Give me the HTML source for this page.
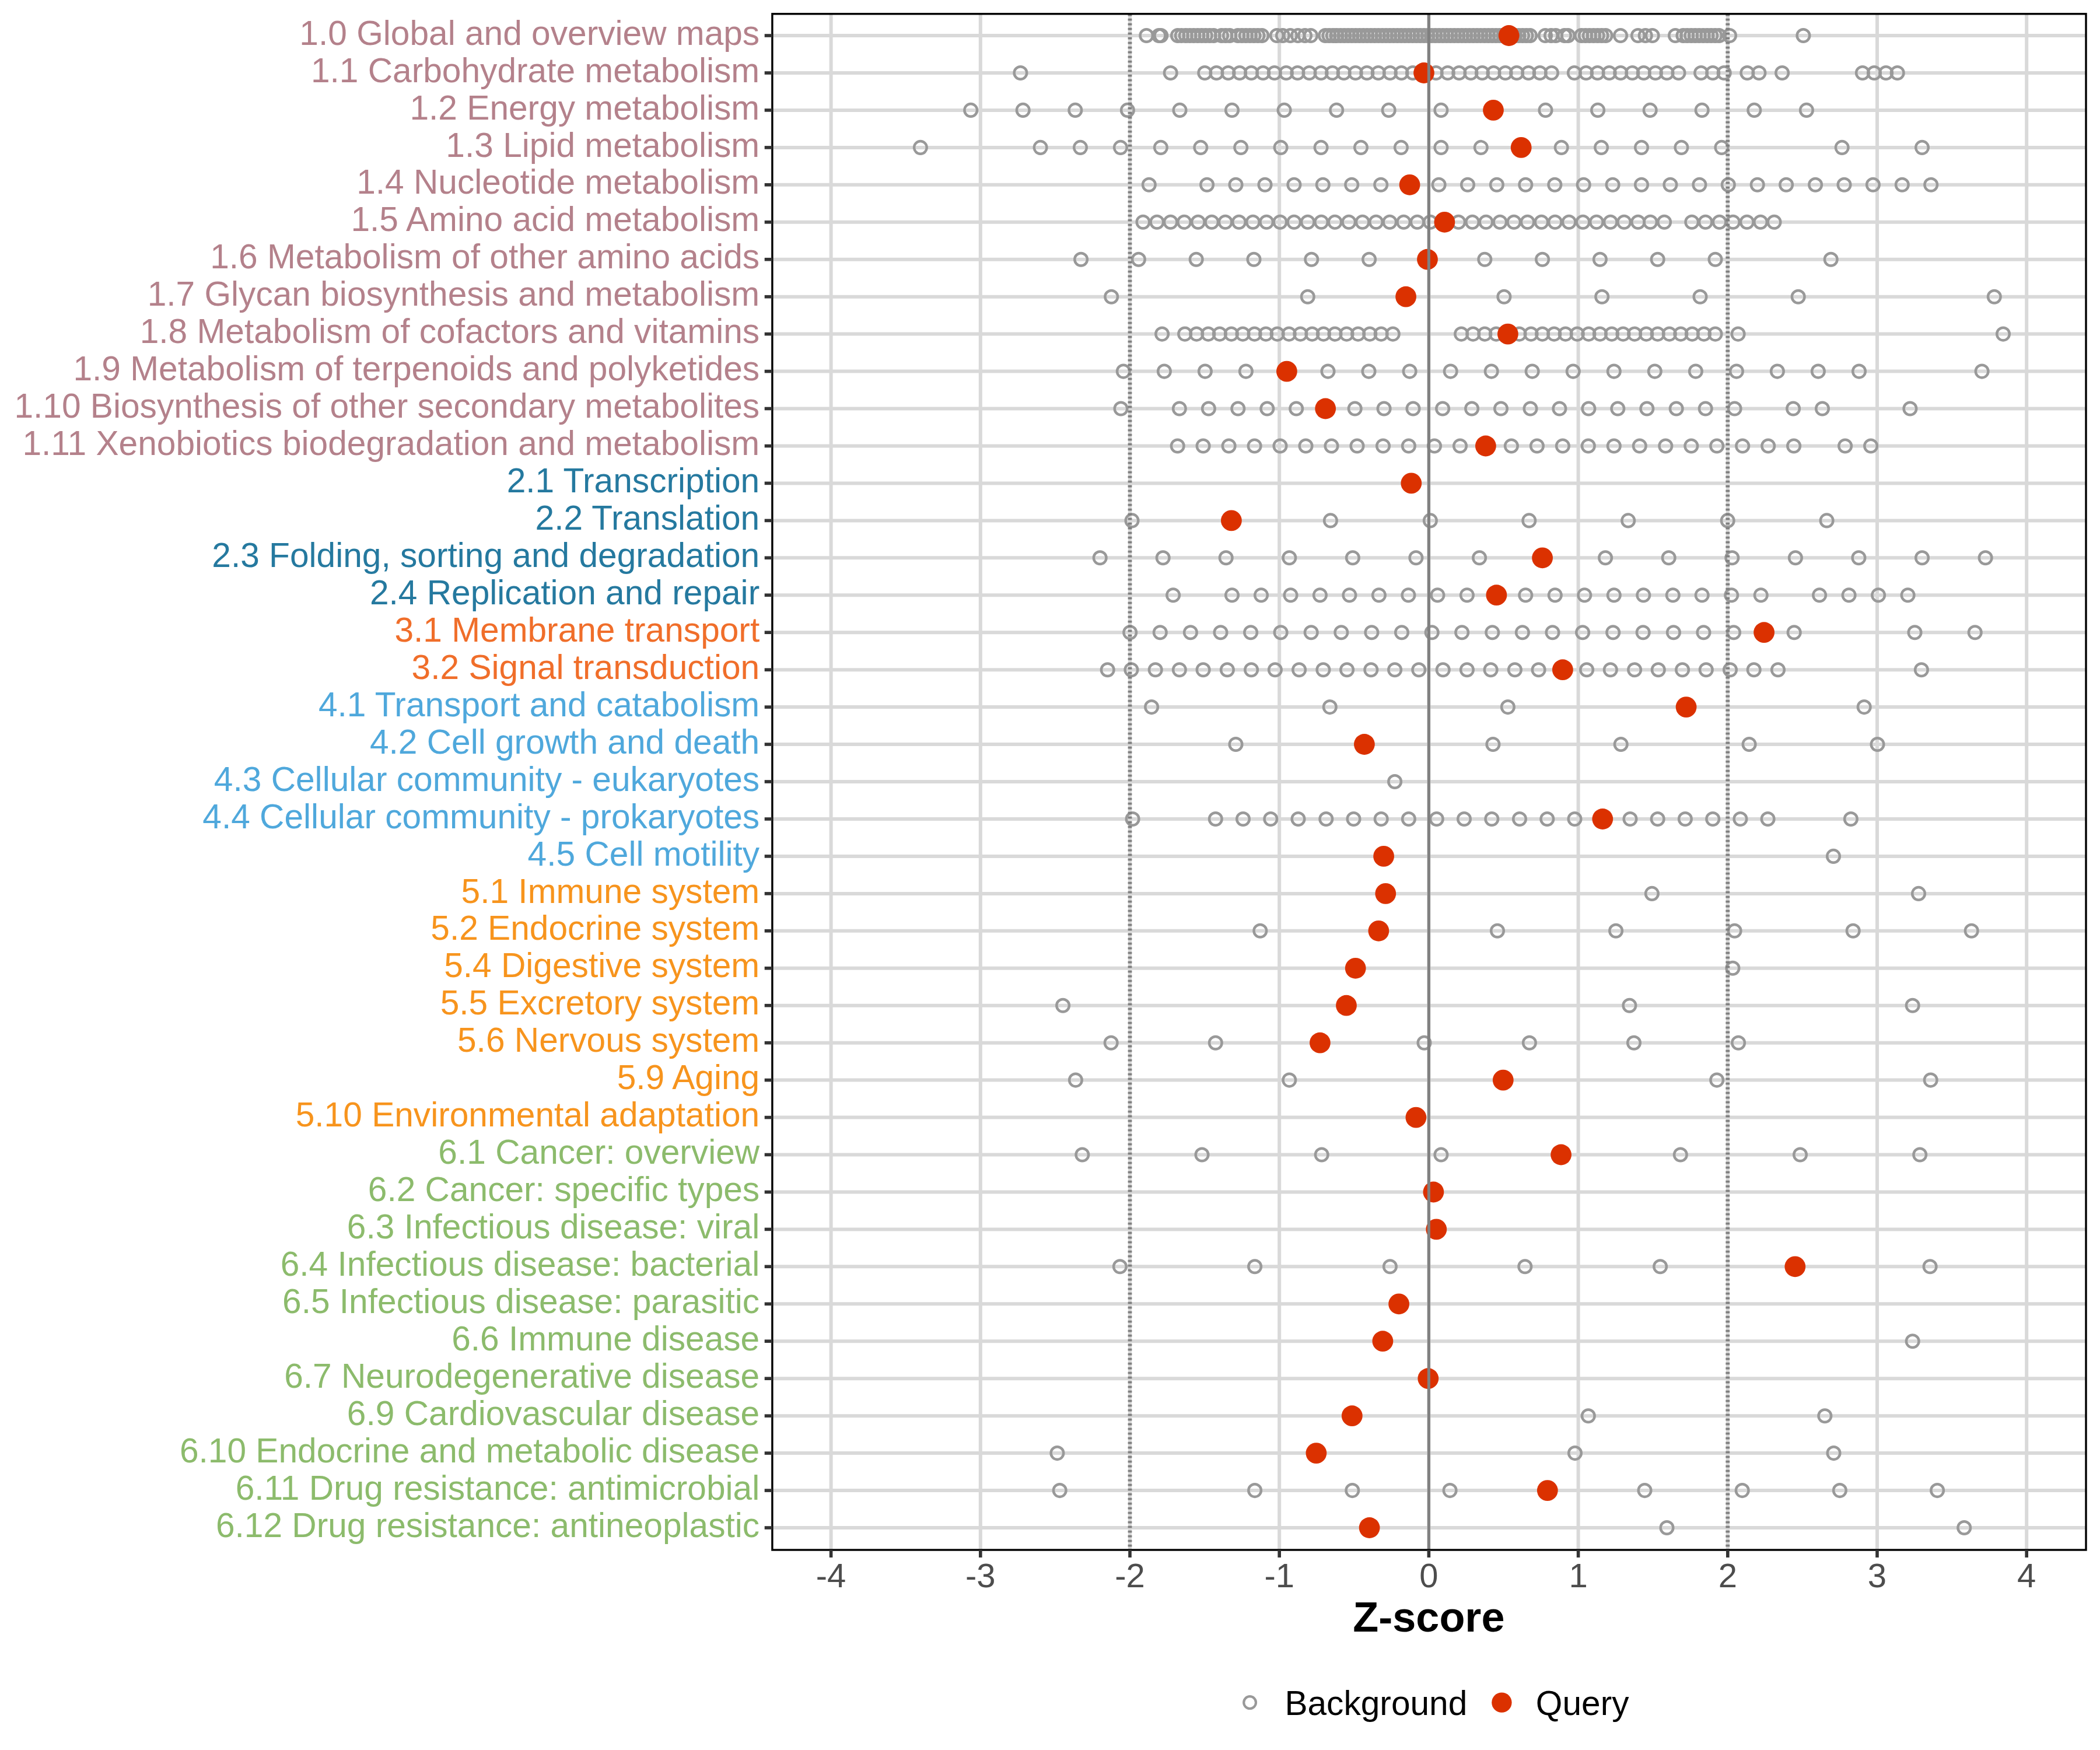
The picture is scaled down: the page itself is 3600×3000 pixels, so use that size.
<!DOCTYPE html><html><head><meta charset="utf-8"><style>html,body{margin:0;padding:0;background:#fff;width:3600px;height:3000px;overflow:hidden}svg{display:block}text{font-family:"Liberation Sans",sans-serif}</style></head><body>
<svg width="3600" height="3000" viewBox="0 0 3600 3000">
<rect x="0" y="0" width="3600" height="3000" fill="#fff"/>
<g stroke="#D9D9D9" stroke-width="6"><line x1="1424.6" y1="23.8" x2="1424.6" y2="2657.0"/><line x1="1680.8" y1="23.8" x2="1680.8" y2="2657.0"/><line x1="1937.0" y1="23.8" x2="1937.0" y2="2657.0"/><line x1="2193.2" y1="23.8" x2="2193.2" y2="2657.0"/><line x1="2449.4" y1="23.8" x2="2449.4" y2="2657.0"/><line x1="2705.6" y1="23.8" x2="2705.6" y2="2657.0"/><line x1="2961.8" y1="23.8" x2="2961.8" y2="2657.0"/><line x1="3218.0" y1="23.8" x2="3218.0" y2="2657.0"/><line x1="3474.2" y1="23.8" x2="3474.2" y2="2657.0"/><line x1="1323.9" y1="61.0" x2="3576.0" y2="61.0"/><line x1="1323.9" y1="125.0" x2="3576.0" y2="125.0"/><line x1="1323.9" y1="188.9" x2="3576.0" y2="188.9"/><line x1="1323.9" y1="252.9" x2="3576.0" y2="252.9"/><line x1="1323.9" y1="316.8" x2="3576.0" y2="316.8"/><line x1="1323.9" y1="380.8" x2="3576.0" y2="380.8"/><line x1="1323.9" y1="444.7" x2="3576.0" y2="444.7"/><line x1="1323.9" y1="508.7" x2="3576.0" y2="508.7"/><line x1="1323.9" y1="572.6" x2="3576.0" y2="572.6"/><line x1="1323.9" y1="636.6" x2="3576.0" y2="636.6"/><line x1="1323.9" y1="700.5" x2="3576.0" y2="700.5"/><line x1="1323.9" y1="764.5" x2="3576.0" y2="764.5"/><line x1="1323.9" y1="828.4" x2="3576.0" y2="828.4"/><line x1="1323.9" y1="892.4" x2="3576.0" y2="892.4"/><line x1="1323.9" y1="956.3" x2="3576.0" y2="956.3"/><line x1="1323.9" y1="1020.2" x2="3576.0" y2="1020.2"/><line x1="1323.9" y1="1084.2" x2="3576.0" y2="1084.2"/><line x1="1323.9" y1="1148.2" x2="3576.0" y2="1148.2"/><line x1="1323.9" y1="1212.1" x2="3576.0" y2="1212.1"/><line x1="1323.9" y1="1276.0" x2="3576.0" y2="1276.0"/><line x1="1323.9" y1="1340.0" x2="3576.0" y2="1340.0"/><line x1="1323.9" y1="1404.0" x2="3576.0" y2="1404.0"/><line x1="1323.9" y1="1467.9" x2="3576.0" y2="1467.9"/><line x1="1323.9" y1="1531.9" x2="3576.0" y2="1531.9"/><line x1="1323.9" y1="1595.8" x2="3576.0" y2="1595.8"/><line x1="1323.9" y1="1659.8" x2="3576.0" y2="1659.8"/><line x1="1323.9" y1="1723.7" x2="3576.0" y2="1723.7"/><line x1="1323.9" y1="1787.7" x2="3576.0" y2="1787.7"/><line x1="1323.9" y1="1851.6" x2="3576.0" y2="1851.6"/><line x1="1323.9" y1="1915.6" x2="3576.0" y2="1915.6"/><line x1="1323.9" y1="1979.5" x2="3576.0" y2="1979.5"/><line x1="1323.9" y1="2043.5" x2="3576.0" y2="2043.5"/><line x1="1323.9" y1="2107.4" x2="3576.0" y2="2107.4"/><line x1="1323.9" y1="2171.3" x2="3576.0" y2="2171.3"/><line x1="1323.9" y1="2235.3" x2="3576.0" y2="2235.3"/><line x1="1323.9" y1="2299.2" x2="3576.0" y2="2299.2"/><line x1="1323.9" y1="2363.2" x2="3576.0" y2="2363.2"/><line x1="1323.9" y1="2427.2" x2="3576.0" y2="2427.2"/><line x1="1323.9" y1="2491.1" x2="3576.0" y2="2491.1"/><line x1="1323.9" y1="2555.1" x2="3576.0" y2="2555.1"/><line x1="1323.9" y1="2619.0" x2="3576.0" y2="2619.0"/></g>
<g fill="none" stroke="#999999" stroke-width="4.5"><circle cx="1965.3" cy="61.0" r="10.8"/><circle cx="1986.7" cy="61.0" r="10.8"/><circle cx="1990.2" cy="61.0" r="10.8"/><circle cx="2019.0" cy="61.0" r="10.8"/><circle cx="2025.8" cy="61.0" r="10.8"/><circle cx="2032.7" cy="61.0" r="10.8"/><circle cx="2039.5" cy="61.0" r="10.8"/><circle cx="2046.3" cy="61.0" r="10.8"/><circle cx="2053.2" cy="61.0" r="10.8"/><circle cx="2060.0" cy="61.0" r="10.8"/><circle cx="2066.8" cy="61.0" r="10.8"/><circle cx="2073.7" cy="61.0" r="10.8"/><circle cx="2080.5" cy="61.0" r="10.8"/><circle cx="2094.0" cy="61.0" r="10.8"/><circle cx="2101.0" cy="61.0" r="10.8"/><circle cx="2108.0" cy="61.0" r="10.8"/><circle cx="2122.0" cy="61.0" r="10.8"/><circle cx="2128.9" cy="61.0" r="10.8"/><circle cx="2135.8" cy="61.0" r="10.8"/><circle cx="2142.7" cy="61.0" r="10.8"/><circle cx="2149.5" cy="61.0" r="10.8"/><circle cx="2156.4" cy="61.0" r="10.8"/><circle cx="2163.3" cy="61.0" r="10.8"/><circle cx="2189.0" cy="61.0" r="10.8"/><circle cx="2199.0" cy="61.0" r="10.8"/><circle cx="2212.0" cy="61.0" r="10.8"/><circle cx="2225.0" cy="61.0" r="10.8"/><circle cx="2237.0" cy="61.0" r="10.8"/><circle cx="2247.0" cy="61.0" r="10.8"/><circle cx="2272.0" cy="61.0" r="10.8"/><circle cx="2278.5" cy="61.0" r="10.8"/><circle cx="2285.0" cy="61.0" r="10.8"/><circle cx="2291.5" cy="61.0" r="10.8"/><circle cx="2298.0" cy="61.0" r="10.8"/><circle cx="2304.5" cy="61.0" r="10.8"/><circle cx="2311.0" cy="61.0" r="10.8"/><circle cx="2317.5" cy="61.0" r="10.8"/><circle cx="2324.0" cy="61.0" r="10.8"/><circle cx="2330.5" cy="61.0" r="10.8"/><circle cx="2337.0" cy="61.0" r="10.8"/><circle cx="2343.5" cy="61.0" r="10.8"/><circle cx="2350.0" cy="61.0" r="10.8"/><circle cx="2356.5" cy="61.0" r="10.8"/><circle cx="2363.0" cy="61.0" r="10.8"/><circle cx="2369.5" cy="61.0" r="10.8"/><circle cx="2376.0" cy="61.0" r="10.8"/><circle cx="2382.5" cy="61.0" r="10.8"/><circle cx="2389.0" cy="61.0" r="10.8"/><circle cx="2395.5" cy="61.0" r="10.8"/><circle cx="2402.0" cy="61.0" r="10.8"/><circle cx="2408.5" cy="61.0" r="10.8"/><circle cx="2415.0" cy="61.0" r="10.8"/><circle cx="2421.5" cy="61.0" r="10.8"/><circle cx="2428.0" cy="61.0" r="10.8"/><circle cx="2434.5" cy="61.0" r="10.8"/><circle cx="2441.0" cy="61.0" r="10.8"/><circle cx="2447.5" cy="61.0" r="10.8"/><circle cx="2454.0" cy="61.0" r="10.8"/><circle cx="2460.5" cy="61.0" r="10.8"/><circle cx="2467.0" cy="61.0" r="10.8"/><circle cx="2473.5" cy="61.0" r="10.8"/><circle cx="2480.0" cy="61.0" r="10.8"/><circle cx="2486.5" cy="61.0" r="10.8"/><circle cx="2493.0" cy="61.0" r="10.8"/><circle cx="2499.5" cy="61.0" r="10.8"/><circle cx="2506.0" cy="61.0" r="10.8"/><circle cx="2512.5" cy="61.0" r="10.8"/><circle cx="2519.0" cy="61.0" r="10.8"/><circle cx="2525.5" cy="61.0" r="10.8"/><circle cx="2532.0" cy="61.0" r="10.8"/><circle cx="2538.5" cy="61.0" r="10.8"/><circle cx="2545.0" cy="61.0" r="10.8"/><circle cx="2551.5" cy="61.0" r="10.8"/><circle cx="2558.0" cy="61.0" r="10.8"/><circle cx="2564.5" cy="61.0" r="10.8"/><circle cx="2571.0" cy="61.0" r="10.8"/><circle cx="2577.5" cy="61.0" r="10.8"/><circle cx="2584.0" cy="61.0" r="10.8"/><circle cx="2590.5" cy="61.0" r="10.8"/><circle cx="2597.0" cy="61.0" r="10.8"/><circle cx="2603.5" cy="61.0" r="10.8"/><circle cx="2610.0" cy="61.0" r="10.8"/><circle cx="2616.5" cy="61.0" r="10.8"/><circle cx="2623.0" cy="61.0" r="10.8"/><circle cx="2649.0" cy="61.0" r="10.8"/><circle cx="2659.0" cy="61.0" r="10.8"/><circle cx="2667.0" cy="61.0" r="10.8"/><circle cx="2682.0" cy="61.0" r="10.8"/><circle cx="2688.0" cy="61.0" r="10.8"/><circle cx="2711.0" cy="61.0" r="10.8"/><circle cx="2717.9" cy="61.0" r="10.8"/><circle cx="2724.8" cy="61.0" r="10.8"/><circle cx="2731.8" cy="61.0" r="10.8"/><circle cx="2738.7" cy="61.0" r="10.8"/><circle cx="2745.6" cy="61.0" r="10.8"/><circle cx="2752.5" cy="61.0" r="10.8"/><circle cx="2778.0" cy="61.0" r="10.8"/><circle cx="2808.0" cy="61.0" r="10.8"/><circle cx="2820.7" cy="61.0" r="10.8"/><circle cx="2832.6" cy="61.0" r="10.8"/><circle cx="2872.0" cy="61.0" r="10.8"/><circle cx="2885.5" cy="61.0" r="10.8"/><circle cx="2892.3" cy="61.0" r="10.8"/><circle cx="2899.2" cy="61.0" r="10.8"/><circle cx="2906.0" cy="61.0" r="10.8"/><circle cx="2912.8" cy="61.0" r="10.8"/><circle cx="2919.7" cy="61.0" r="10.8"/><circle cx="2926.5" cy="61.0" r="10.8"/><circle cx="2933.3" cy="61.0" r="10.8"/><circle cx="2940.2" cy="61.0" r="10.8"/><circle cx="2947.0" cy="61.0" r="10.8"/><circle cx="2965.0" cy="61.0" r="10.8"/><circle cx="3091.4" cy="61.0" r="10.8"/><circle cx="1749.4" cy="125.0" r="10.8"/><circle cx="2006.7" cy="125.0" r="10.8"/><circle cx="2065.3" cy="125.0" r="10.8"/><circle cx="2085.4" cy="125.0" r="10.8"/><circle cx="2105.5" cy="125.0" r="10.8"/><circle cx="2125.1" cy="125.0" r="10.8"/><circle cx="2145.1" cy="125.0" r="10.8"/><circle cx="2165.2" cy="125.0" r="10.8"/><circle cx="2184.8" cy="125.0" r="10.8"/><circle cx="2204.9" cy="125.0" r="10.8"/><circle cx="2224.4" cy="125.0" r="10.8"/><circle cx="2244.5" cy="125.0" r="10.8"/><circle cx="2264.6" cy="125.0" r="10.8"/><circle cx="2284.1" cy="125.0" r="10.8"/><circle cx="2303.7" cy="125.0" r="10.8"/><circle cx="2323.7" cy="125.0" r="10.8"/><circle cx="2343.3" cy="125.0" r="10.8"/><circle cx="2362.8" cy="125.0" r="10.8"/><circle cx="2382.9" cy="125.0" r="10.8"/><circle cx="2402.5" cy="125.0" r="10.8"/><circle cx="2422.0" cy="125.0" r="10.8"/><circle cx="2461.7" cy="125.0" r="10.8"/><circle cx="2481.8" cy="125.0" r="10.8"/><circle cx="2501.3" cy="125.0" r="10.8"/><circle cx="2521.4" cy="125.0" r="10.8"/><circle cx="2541.0" cy="125.0" r="10.8"/><circle cx="2560.5" cy="125.0" r="10.8"/><circle cx="2580.6" cy="125.0" r="10.8"/><circle cx="2600.1" cy="125.0" r="10.8"/><circle cx="2620.2" cy="125.0" r="10.8"/><circle cx="2639.8" cy="125.0" r="10.8"/><circle cx="2659.9" cy="125.0" r="10.8"/><circle cx="2698.9" cy="125.0" r="10.8"/><circle cx="2719.0" cy="125.0" r="10.8"/><circle cx="2738.6" cy="125.0" r="10.8"/><circle cx="2758.7" cy="125.0" r="10.8"/><circle cx="2778.2" cy="125.0" r="10.8"/><circle cx="2798.3" cy="125.0" r="10.8"/><circle cx="2817.8" cy="125.0" r="10.8"/><circle cx="2837.9" cy="125.0" r="10.8"/><circle cx="2857.5" cy="125.0" r="10.8"/><circle cx="2877.5" cy="125.0" r="10.8"/><circle cx="2916.1" cy="125.0" r="10.8"/><circle cx="2936.2" cy="125.0" r="10.8"/><circle cx="2955.7" cy="125.0" r="10.8"/><circle cx="2995.3" cy="125.0" r="10.8"/><circle cx="3015.4" cy="125.0" r="10.8"/><circle cx="3055.1" cy="125.0" r="10.8"/><circle cx="3192.9" cy="125.0" r="10.8"/><circle cx="3213.0" cy="125.0" r="10.8"/><circle cx="3233.1" cy="125.0" r="10.8"/><circle cx="3252.7" cy="125.0" r="10.8"/><circle cx="1664.2" cy="188.9" r="10.8"/><circle cx="1753.7" cy="188.9" r="10.8"/><circle cx="1843.3" cy="188.9" r="10.8"/><circle cx="1932.9" cy="188.9" r="10.8"/><circle cx="2022.5" cy="188.9" r="10.8"/><circle cx="2112.0" cy="188.9" r="10.8"/><circle cx="2201.6" cy="188.9" r="10.8"/><circle cx="2291.2" cy="188.9" r="10.8"/><circle cx="2380.7" cy="188.9" r="10.8"/><circle cx="2470.4" cy="188.9" r="10.8"/><circle cx="2649.5" cy="188.9" r="10.8"/><circle cx="2739.1" cy="188.9" r="10.8"/><circle cx="2828.7" cy="188.9" r="10.8"/><circle cx="2917.7" cy="188.9" r="10.8"/><circle cx="3007.3" cy="188.9" r="10.8"/><circle cx="3096.9" cy="188.9" r="10.8"/><circle cx="1577.9" cy="252.9" r="10.8"/><circle cx="1783.6" cy="252.9" r="10.8"/><circle cx="1852.0" cy="252.9" r="10.8"/><circle cx="1920.9" cy="252.9" r="10.8"/><circle cx="1989.9" cy="252.9" r="10.8"/><circle cx="2058.3" cy="252.9" r="10.8"/><circle cx="2127.2" cy="252.9" r="10.8"/><circle cx="2195.6" cy="252.9" r="10.8"/><circle cx="2264.6" cy="252.9" r="10.8"/><circle cx="2333.0" cy="252.9" r="10.8"/><circle cx="2401.9" cy="252.9" r="10.8"/><circle cx="2470.4" cy="252.9" r="10.8"/><circle cx="2538.8" cy="252.9" r="10.8"/><circle cx="2676.7" cy="252.9" r="10.8"/><circle cx="2745.1" cy="252.9" r="10.8"/><circle cx="2814.0" cy="252.9" r="10.8"/><circle cx="2882.4" cy="252.9" r="10.8"/><circle cx="2951.4" cy="252.9" r="10.8"/><circle cx="3157.7" cy="252.9" r="10.8"/><circle cx="3295.0" cy="252.9" r="10.8"/><circle cx="1969.8" cy="316.8" r="10.8"/><circle cx="2069.1" cy="316.8" r="10.8"/><circle cx="2118.5" cy="316.8" r="10.8"/><circle cx="2168.5" cy="316.8" r="10.8"/><circle cx="2218.4" cy="316.8" r="10.8"/><circle cx="2267.8" cy="316.8" r="10.8"/><circle cx="2317.2" cy="316.8" r="10.8"/><circle cx="2367.2" cy="316.8" r="10.8"/><circle cx="2466.6" cy="316.8" r="10.8"/><circle cx="2516.0" cy="316.8" r="10.8"/><circle cx="2565.9" cy="316.8" r="10.8"/><circle cx="2615.3" cy="316.8" r="10.8"/><circle cx="2665.3" cy="316.8" r="10.8"/><circle cx="2714.7" cy="316.8" r="10.8"/><circle cx="2764.6" cy="316.8" r="10.8"/><circle cx="2814.0" cy="316.8" r="10.8"/><circle cx="2863.4" cy="316.8" r="10.8"/><circle cx="2913.4" cy="316.8" r="10.8"/><circle cx="2962.8" cy="316.8" r="10.8"/><circle cx="3012.7" cy="316.8" r="10.8"/><circle cx="3062.1" cy="316.8" r="10.8"/><circle cx="3112.1" cy="316.8" r="10.8"/><circle cx="3161.5" cy="316.8" r="10.8"/><circle cx="3210.9" cy="316.8" r="10.8"/><circle cx="3260.8" cy="316.8" r="10.8"/><circle cx="3310.2" cy="316.8" r="10.8"/><circle cx="1959.5" cy="380.8" r="10.8"/><circle cx="1983.4" cy="380.8" r="10.8"/><circle cx="2006.7" cy="380.8" r="10.8"/><circle cx="2030.1" cy="380.8" r="10.8"/><circle cx="2053.9" cy="380.8" r="10.8"/><circle cx="2077.3" cy="380.8" r="10.8"/><circle cx="2100.6" cy="380.8" r="10.8"/><circle cx="2124.0" cy="380.8" r="10.8"/><circle cx="2147.9" cy="380.8" r="10.8"/><circle cx="2171.2" cy="380.8" r="10.8"/><circle cx="2194.5" cy="380.8" r="10.8"/><circle cx="2218.4" cy="380.8" r="10.8"/><circle cx="2241.8" cy="380.8" r="10.8"/><circle cx="2265.1" cy="380.8" r="10.8"/><circle cx="2288.5" cy="380.8" r="10.8"/><circle cx="2312.3" cy="380.8" r="10.8"/><circle cx="2335.7" cy="380.8" r="10.8"/><circle cx="2359.0" cy="380.8" r="10.8"/><circle cx="2382.4" cy="380.8" r="10.8"/><circle cx="2406.3" cy="380.8" r="10.8"/><circle cx="2429.6" cy="380.8" r="10.8"/><circle cx="2451.9" cy="380.8" r="10.8"/><circle cx="2476.4" cy="380.8" r="10.8"/><circle cx="2500.3" cy="380.8" r="10.8"/><circle cx="2524.1" cy="380.8" r="10.8"/><circle cx="2547.5" cy="380.8" r="10.8"/><circle cx="2571.4" cy="380.8" r="10.8"/><circle cx="2595.3" cy="380.8" r="10.8"/><circle cx="2618.6" cy="380.8" r="10.8"/><circle cx="2642.5" cy="380.8" r="10.8"/><circle cx="2665.8" cy="380.8" r="10.8"/><circle cx="2689.7" cy="380.8" r="10.8"/><circle cx="2713.6" cy="380.8" r="10.8"/><circle cx="2736.9" cy="380.8" r="10.8"/><circle cx="2760.8" cy="380.8" r="10.8"/><circle cx="2784.2" cy="380.8" r="10.8"/><circle cx="2808.1" cy="380.8" r="10.8"/><circle cx="2829.2" cy="380.8" r="10.8"/><circle cx="2853.1" cy="380.8" r="10.8"/><circle cx="2900.3" cy="380.8" r="10.8"/><circle cx="2923.7" cy="380.8" r="10.8"/><circle cx="2947.6" cy="380.8" r="10.8"/><circle cx="2970.9" cy="380.8" r="10.8"/><circle cx="2994.8" cy="380.8" r="10.8"/><circle cx="3018.1" cy="380.8" r="10.8"/><circle cx="3041.5" cy="380.8" r="10.8"/><circle cx="1853.1" cy="444.7" r="10.8"/><circle cx="1951.9" cy="444.7" r="10.8"/><circle cx="2050.7" cy="444.7" r="10.8"/><circle cx="2149.5" cy="444.7" r="10.8"/><circle cx="2248.3" cy="444.7" r="10.8"/><circle cx="2347.1" cy="444.7" r="10.8"/><circle cx="2545.3" cy="444.7" r="10.8"/><circle cx="2644.1" cy="444.7" r="10.8"/><circle cx="2742.9" cy="444.7" r="10.8"/><circle cx="2841.7" cy="444.7" r="10.8"/><circle cx="2940.5" cy="444.7" r="10.8"/><circle cx="3138.7" cy="444.7" r="10.8"/><circle cx="1905.2" cy="508.7" r="10.8"/><circle cx="2241.8" cy="508.7" r="10.8"/><circle cx="2578.4" cy="508.7" r="10.8"/><circle cx="2746.2" cy="508.7" r="10.8"/><circle cx="2914.5" cy="508.7" r="10.8"/><circle cx="3082.7" cy="508.7" r="10.8"/><circle cx="3418.8" cy="508.7" r="10.8"/><circle cx="1992.1" cy="572.6" r="10.8"/><circle cx="2031.1" cy="572.6" r="10.8"/><circle cx="2051.2" cy="572.6" r="10.8"/><circle cx="2071.3" cy="572.6" r="10.8"/><circle cx="2090.9" cy="572.6" r="10.8"/><circle cx="2110.9" cy="572.6" r="10.8"/><circle cx="2130.5" cy="572.6" r="10.8"/><circle cx="2150.6" cy="572.6" r="10.8"/><circle cx="2170.1" cy="572.6" r="10.8"/><circle cx="2189.7" cy="572.6" r="10.8"/><circle cx="2209.7" cy="572.6" r="10.8"/><circle cx="2229.3" cy="572.6" r="10.8"/><circle cx="2249.4" cy="572.6" r="10.8"/><circle cx="2268.9" cy="572.6" r="10.8"/><circle cx="2288.5" cy="572.6" r="10.8"/><circle cx="2308.5" cy="572.6" r="10.8"/><circle cx="2328.1" cy="572.6" r="10.8"/><circle cx="2348.2" cy="572.6" r="10.8"/><circle cx="2367.7" cy="572.6" r="10.8"/><circle cx="2387.8" cy="572.6" r="10.8"/><circle cx="2505.1" cy="572.6" r="10.8"/><circle cx="2525.2" cy="572.6" r="10.8"/><circle cx="2545.3" cy="572.6" r="10.8"/><circle cx="2564.9" cy="572.6" r="10.8"/><circle cx="2584.9" cy="572.6" r="10.8"/><circle cx="2604.5" cy="572.6" r="10.8"/><circle cx="2624.6" cy="572.6" r="10.8"/><circle cx="2644.1" cy="572.6" r="10.8"/><circle cx="2664.2" cy="572.6" r="10.8"/><circle cx="2683.7" cy="572.6" r="10.8"/><circle cx="2703.8" cy="572.6" r="10.8"/><circle cx="2723.4" cy="572.6" r="10.8"/><circle cx="2742.9" cy="572.6" r="10.8"/><circle cx="2763.0" cy="572.6" r="10.8"/><circle cx="2782.5" cy="572.6" r="10.8"/><circle cx="2802.1" cy="572.6" r="10.8"/><circle cx="2822.2" cy="572.6" r="10.8"/><circle cx="2841.7" cy="572.6" r="10.8"/><circle cx="2861.8" cy="572.6" r="10.8"/><circle cx="2881.3" cy="572.6" r="10.8"/><circle cx="2900.9" cy="572.6" r="10.8"/><circle cx="2921.0" cy="572.6" r="10.8"/><circle cx="2940.5" cy="572.6" r="10.8"/><circle cx="2979.6" cy="572.6" r="10.8"/><circle cx="3434.0" cy="572.6" r="10.8"/><circle cx="1925.8" cy="636.6" r="10.8"/><circle cx="1995.9" cy="636.6" r="10.8"/><circle cx="2065.9" cy="636.6" r="10.8"/><circle cx="2135.9" cy="636.6" r="10.8"/><circle cx="2276.5" cy="636.6" r="10.8"/><circle cx="2346.5" cy="636.6" r="10.8"/><circle cx="2416.6" cy="636.6" r="10.8"/><circle cx="2486.7" cy="636.6" r="10.8"/><circle cx="2556.7" cy="636.6" r="10.8"/><circle cx="2626.7" cy="636.6" r="10.8"/><circle cx="2696.8" cy="636.6" r="10.8"/><circle cx="2766.8" cy="636.6" r="10.8"/><circle cx="2836.8" cy="636.6" r="10.8"/><circle cx="2906.9" cy="636.6" r="10.8"/><circle cx="2976.9" cy="636.6" r="10.8"/><circle cx="3046.9" cy="636.6" r="10.8"/><circle cx="3116.9" cy="636.6" r="10.8"/><circle cx="3187.0" cy="636.6" r="10.8"/><circle cx="3397.6" cy="636.6" r="10.8"/><circle cx="1921.5" cy="700.5" r="10.8"/><circle cx="2021.9" cy="700.5" r="10.8"/><circle cx="2071.9" cy="700.5" r="10.8"/><circle cx="2122.3" cy="700.5" r="10.8"/><circle cx="2172.3" cy="700.5" r="10.8"/><circle cx="2222.2" cy="700.5" r="10.8"/><circle cx="2322.7" cy="700.5" r="10.8"/><circle cx="2372.6" cy="700.5" r="10.8"/><circle cx="2422.5" cy="700.5" r="10.8"/><circle cx="2473.1" cy="700.5" r="10.8"/><circle cx="2523.1" cy="700.5" r="10.8"/><circle cx="2573.0" cy="700.5" r="10.8"/><circle cx="2623.5" cy="700.5" r="10.8"/><circle cx="2673.4" cy="700.5" r="10.8"/><circle cx="2723.4" cy="700.5" r="10.8"/><circle cx="2773.3" cy="700.5" r="10.8"/><circle cx="2823.3" cy="700.5" r="10.8"/><circle cx="2873.7" cy="700.5" r="10.8"/><circle cx="2923.7" cy="700.5" r="10.8"/><circle cx="2973.6" cy="700.5" r="10.8"/><circle cx="3074.1" cy="700.5" r="10.8"/><circle cx="3124.0" cy="700.5" r="10.8"/><circle cx="3274.4" cy="700.5" r="10.8"/><circle cx="2018.7" cy="764.5" r="10.8"/><circle cx="2062.6" cy="764.5" r="10.8"/><circle cx="2106.6" cy="764.5" r="10.8"/><circle cx="2150.6" cy="764.5" r="10.8"/><circle cx="2194.5" cy="764.5" r="10.8"/><circle cx="2238.5" cy="764.5" r="10.8"/><circle cx="2282.5" cy="764.5" r="10.8"/><circle cx="2326.5" cy="764.5" r="10.8"/><circle cx="2371.0" cy="764.5" r="10.8"/><circle cx="2414.9" cy="764.5" r="10.8"/><circle cx="2459.0" cy="764.5" r="10.8"/><circle cx="2503.0" cy="764.5" r="10.8"/><circle cx="2590.9" cy="764.5" r="10.8"/><circle cx="2634.9" cy="764.5" r="10.8"/><circle cx="2678.9" cy="764.5" r="10.8"/><circle cx="2722.8" cy="764.5" r="10.8"/><circle cx="2766.8" cy="764.5" r="10.8"/><circle cx="2810.8" cy="764.5" r="10.8"/><circle cx="2855.3" cy="764.5" r="10.8"/><circle cx="2899.3" cy="764.5" r="10.8"/><circle cx="2943.2" cy="764.5" r="10.8"/><circle cx="2987.2" cy="764.5" r="10.8"/><circle cx="3031.2" cy="764.5" r="10.8"/><circle cx="3075.1" cy="764.5" r="10.8"/><circle cx="3163.1" cy="764.5" r="10.8"/><circle cx="3207.1" cy="764.5" r="10.8"/><circle cx="1940.5" cy="892.4" r="10.8"/><circle cx="2280.9" cy="892.4" r="10.8"/><circle cx="2451.9" cy="892.4" r="10.8"/><circle cx="2621.3" cy="892.4" r="10.8"/><circle cx="2791.2" cy="892.4" r="10.8"/><circle cx="2961.7" cy="892.4" r="10.8"/><circle cx="3131.6" cy="892.4" r="10.8"/><circle cx="1885.7" cy="956.3" r="10.8"/><circle cx="1993.7" cy="956.3" r="10.8"/><circle cx="2101.7" cy="956.3" r="10.8"/><circle cx="2210.3" cy="956.3" r="10.8"/><circle cx="2318.9" cy="956.3" r="10.8"/><circle cx="2427.4" cy="956.3" r="10.8"/><circle cx="2536.1" cy="956.3" r="10.8"/><circle cx="2752.1" cy="956.3" r="10.8"/><circle cx="2860.7" cy="956.3" r="10.8"/><circle cx="2969.3" cy="956.3" r="10.8"/><circle cx="3077.9" cy="956.3" r="10.8"/><circle cx="3186.4" cy="956.3" r="10.8"/><circle cx="3295.0" cy="956.3" r="10.8"/><circle cx="3403.6" cy="956.3" r="10.8"/><circle cx="2011.1" cy="1020.2" r="10.8"/><circle cx="2112.0" cy="1020.2" r="10.8"/><circle cx="2162.0" cy="1020.2" r="10.8"/><circle cx="2212.5" cy="1020.2" r="10.8"/><circle cx="2262.9" cy="1020.2" r="10.8"/><circle cx="2313.4" cy="1020.2" r="10.8"/><circle cx="2363.9" cy="1020.2" r="10.8"/><circle cx="2414.4" cy="1020.2" r="10.8"/><circle cx="2464.4" cy="1020.2" r="10.8"/><circle cx="2514.9" cy="1020.2" r="10.8"/><circle cx="2565.4" cy="1020.2" r="10.8"/><circle cx="2615.3" cy="1020.2" r="10.8"/><circle cx="2665.8" cy="1020.2" r="10.8"/><circle cx="2716.3" cy="1020.2" r="10.8"/><circle cx="2766.8" cy="1020.2" r="10.8"/><circle cx="2817.3" cy="1020.2" r="10.8"/><circle cx="2867.8" cy="1020.2" r="10.8"/><circle cx="2917.7" cy="1020.2" r="10.8"/><circle cx="2968.2" cy="1020.2" r="10.8"/><circle cx="3018.7" cy="1020.2" r="10.8"/><circle cx="3119.1" cy="1020.2" r="10.8"/><circle cx="3169.6" cy="1020.2" r="10.8"/><circle cx="3220.1" cy="1020.2" r="10.8"/><circle cx="3270.6" cy="1020.2" r="10.8"/><circle cx="1937.2" cy="1084.2" r="10.8"/><circle cx="1988.8" cy="1084.2" r="10.8"/><circle cx="2040.9" cy="1084.2" r="10.8"/><circle cx="2092.5" cy="1084.2" r="10.8"/><circle cx="2144.1" cy="1084.2" r="10.8"/><circle cx="2195.6" cy="1084.2" r="10.8"/><circle cx="2247.7" cy="1084.2" r="10.8"/><circle cx="2299.3" cy="1084.2" r="10.8"/><circle cx="2351.4" cy="1084.2" r="10.8"/><circle cx="2403.0" cy="1084.2" r="10.8"/><circle cx="2454.7" cy="1084.2" r="10.8"/><circle cx="2506.2" cy="1084.2" r="10.8"/><circle cx="2558.3" cy="1084.2" r="10.8"/><circle cx="2609.9" cy="1084.2" r="10.8"/><circle cx="2661.5" cy="1084.2" r="10.8"/><circle cx="2713.1" cy="1084.2" r="10.8"/><circle cx="2765.2" cy="1084.2" r="10.8"/><circle cx="2816.7" cy="1084.2" r="10.8"/><circle cx="2868.9" cy="1084.2" r="10.8"/><circle cx="2920.4" cy="1084.2" r="10.8"/><circle cx="2972.0" cy="1084.2" r="10.8"/><circle cx="3075.7" cy="1084.2" r="10.8"/><circle cx="3282.5" cy="1084.2" r="10.8"/><circle cx="3385.7" cy="1084.2" r="10.8"/><circle cx="1898.7" cy="1148.2" r="10.8"/><circle cx="1939.4" cy="1148.2" r="10.8"/><circle cx="1980.7" cy="1148.2" r="10.8"/><circle cx="2021.9" cy="1148.2" r="10.8"/><circle cx="2062.6" cy="1148.2" r="10.8"/><circle cx="2103.9" cy="1148.2" r="10.8"/><circle cx="2145.1" cy="1148.2" r="10.8"/><circle cx="2185.9" cy="1148.2" r="10.8"/><circle cx="2227.1" cy="1148.2" r="10.8"/><circle cx="2268.4" cy="1148.2" r="10.8"/><circle cx="2309.1" cy="1148.2" r="10.8"/><circle cx="2350.3" cy="1148.2" r="10.8"/><circle cx="2391.1" cy="1148.2" r="10.8"/><circle cx="2432.3" cy="1148.2" r="10.8"/><circle cx="2473.7" cy="1148.2" r="10.8"/><circle cx="2514.9" cy="1148.2" r="10.8"/><circle cx="2555.6" cy="1148.2" r="10.8"/><circle cx="2596.9" cy="1148.2" r="10.8"/><circle cx="2637.6" cy="1148.2" r="10.8"/><circle cx="2720.1" cy="1148.2" r="10.8"/><circle cx="2760.8" cy="1148.2" r="10.8"/><circle cx="2802.1" cy="1148.2" r="10.8"/><circle cx="2842.8" cy="1148.2" r="10.8"/><circle cx="2884.1" cy="1148.2" r="10.8"/><circle cx="2924.8" cy="1148.2" r="10.8"/><circle cx="2966.0" cy="1148.2" r="10.8"/><circle cx="3006.7" cy="1148.2" r="10.8"/><circle cx="3048.0" cy="1148.2" r="10.8"/><circle cx="3293.9" cy="1148.2" r="10.8"/><circle cx="1974.1" cy="1212.1" r="10.8"/><circle cx="2279.8" cy="1212.1" r="10.8"/><circle cx="2584.9" cy="1212.1" r="10.8"/><circle cx="3195.7" cy="1212.1" r="10.8"/><circle cx="2118.5" cy="1276.0" r="10.8"/><circle cx="2559.4" cy="1276.0" r="10.8"/><circle cx="2778.7" cy="1276.0" r="10.8"/><circle cx="2998.6" cy="1276.0" r="10.8"/><circle cx="3218.5" cy="1276.0" r="10.8"/><circle cx="2391.1" cy="1340.0" r="10.8"/><circle cx="1941.6" cy="1404.0" r="10.8"/><circle cx="2083.8" cy="1404.0" r="10.8"/><circle cx="2131.0" cy="1404.0" r="10.8"/><circle cx="2178.3" cy="1404.0" r="10.8"/><circle cx="2225.5" cy="1404.0" r="10.8"/><circle cx="2273.3" cy="1404.0" r="10.8"/><circle cx="2320.5" cy="1404.0" r="10.8"/><circle cx="2367.7" cy="1404.0" r="10.8"/><circle cx="2414.9" cy="1404.0" r="10.8"/><circle cx="2462.8" cy="1404.0" r="10.8"/><circle cx="2510.0" cy="1404.0" r="10.8"/><circle cx="2557.3" cy="1404.0" r="10.8"/><circle cx="2605.0" cy="1404.0" r="10.8"/><circle cx="2652.3" cy="1404.0" r="10.8"/><circle cx="2699.5" cy="1404.0" r="10.8"/><circle cx="2794.5" cy="1404.0" r="10.8"/><circle cx="2841.7" cy="1404.0" r="10.8"/><circle cx="2888.9" cy="1404.0" r="10.8"/><circle cx="2936.2" cy="1404.0" r="10.8"/><circle cx="2983.4" cy="1404.0" r="10.8"/><circle cx="3030.6" cy="1404.0" r="10.8"/><circle cx="3172.9" cy="1404.0" r="10.8"/><circle cx="3143.0" cy="1467.9" r="10.8"/><circle cx="2831.9" cy="1531.9" r="10.8"/><circle cx="3289.0" cy="1531.9" r="10.8"/><circle cx="2160.3" cy="1595.8" r="10.8"/><circle cx="2567.0" cy="1595.8" r="10.8"/><circle cx="2770.1" cy="1595.8" r="10.8"/><circle cx="2973.6" cy="1595.8" r="10.8"/><circle cx="3176.7" cy="1595.8" r="10.8"/><circle cx="3379.7" cy="1595.8" r="10.8"/><circle cx="2970.4" cy="1659.8" r="10.8"/><circle cx="1822.1" cy="1723.7" r="10.8"/><circle cx="2793.4" cy="1723.7" r="10.8"/><circle cx="3278.7" cy="1723.7" r="10.8"/><circle cx="1904.7" cy="1787.7" r="10.8"/><circle cx="2083.8" cy="1787.7" r="10.8"/><circle cx="2441.5" cy="1787.7" r="10.8"/><circle cx="2621.9" cy="1787.7" r="10.8"/><circle cx="2801.0" cy="1787.7" r="10.8"/><circle cx="2980.1" cy="1787.7" r="10.8"/><circle cx="1843.9" cy="1851.6" r="10.8"/><circle cx="2210.3" cy="1851.6" r="10.8"/><circle cx="2943.2" cy="1851.6" r="10.8"/><circle cx="3309.7" cy="1851.6" r="10.8"/><circle cx="1855.3" cy="1979.5" r="10.8"/><circle cx="2060.5" cy="1979.5" r="10.8"/><circle cx="2265.7" cy="1979.5" r="10.8"/><circle cx="2470.4" cy="1979.5" r="10.8"/><circle cx="2880.8" cy="1979.5" r="10.8"/><circle cx="3086.0" cy="1979.5" r="10.8"/><circle cx="3291.2" cy="1979.5" r="10.8"/><circle cx="1919.9" cy="2171.3" r="10.8"/><circle cx="2151.1" cy="2171.3" r="10.8"/><circle cx="2382.9" cy="2171.3" r="10.8"/><circle cx="2614.3" cy="2171.3" r="10.8"/><circle cx="2846.1" cy="2171.3" r="10.8"/><circle cx="3308.6" cy="2171.3" r="10.8"/><circle cx="3278.7" cy="2299.2" r="10.8"/><circle cx="2722.8" cy="2427.2" r="10.8"/><circle cx="3128.3" cy="2427.2" r="10.8"/><circle cx="1812.4" cy="2491.1" r="10.8"/><circle cx="2700.0" cy="2491.1" r="10.8"/><circle cx="3143.5" cy="2491.1" r="10.8"/><circle cx="1816.7" cy="2555.1" r="10.8"/><circle cx="2151.1" cy="2555.1" r="10.8"/><circle cx="2318.3" cy="2555.1" r="10.8"/><circle cx="2485.6" cy="2555.1" r="10.8"/><circle cx="2819.5" cy="2555.1" r="10.8"/><circle cx="2986.7" cy="2555.1" r="10.8"/><circle cx="3153.9" cy="2555.1" r="10.8"/><circle cx="3321.1" cy="2555.1" r="10.8"/><circle cx="2857.5" cy="2619.0" r="10.8"/><circle cx="3367.2" cy="2619.0" r="10.8"/></g>
<g fill="#DB3100"><circle cx="2586.7" cy="61.0" r="17.9"/><circle cx="2441.0" cy="125.0" r="17.9"/><circle cx="2560.0" cy="188.9" r="17.9"/><circle cx="2607.7" cy="252.9" r="17.9"/><circle cx="2416.6" cy="316.8" r="17.9"/><circle cx="2476.4" cy="380.8" r="17.9"/><circle cx="2447.0" cy="444.7" r="17.9"/><circle cx="2410.1" cy="508.7" r="17.9"/><circle cx="2584.9" cy="572.6" r="17.9"/><circle cx="2205.9" cy="636.6" r="17.9"/><circle cx="2272.2" cy="700.5" r="17.9"/><circle cx="2546.9" cy="764.5" r="17.9"/><circle cx="2419.3" cy="828.4" r="17.9"/><circle cx="2110.9" cy="892.4" r="17.9"/><circle cx="2644.1" cy="956.3" r="17.9"/><circle cx="2565.4" cy="1020.2" r="17.9"/><circle cx="3024.1" cy="1084.2" r="17.9"/><circle cx="2678.9" cy="1148.2" r="17.9"/><circle cx="2890.6" cy="1212.1" r="17.9"/><circle cx="2338.9" cy="1276.0" r="17.9"/><circle cx="2747.3" cy="1404.0" r="17.9"/><circle cx="2372.1" cy="1467.9" r="17.9"/><circle cx="2375.3" cy="1531.9" r="17.9"/><circle cx="2363.4" cy="1595.8" r="17.9"/><circle cx="2323.7" cy="1659.8" r="17.9"/><circle cx="2308.0" cy="1723.7" r="17.9"/><circle cx="2262.9" cy="1787.7" r="17.9"/><circle cx="2576.8" cy="1851.6" r="17.9"/><circle cx="2427.4" cy="1915.6" r="17.9"/><circle cx="2676.1" cy="1979.5" r="17.9"/><circle cx="2457.4" cy="2043.5" r="17.9"/><circle cx="2462.3" cy="2107.4" r="17.9"/><circle cx="3077.3" cy="2171.3" r="17.9"/><circle cx="2398.1" cy="2235.3" r="17.9"/><circle cx="2370.4" cy="2299.2" r="17.9"/><circle cx="2448.3" cy="2363.2" r="17.9"/><circle cx="2317.8" cy="2427.2" r="17.9"/><circle cx="2256.4" cy="2491.1" r="17.9"/><circle cx="2652.8" cy="2555.1" r="17.9"/><circle cx="2347.6" cy="2619.0" r="17.9"/></g>
<line x1="2449.4" y1="23.8" x2="2449.4" y2="2657.0" stroke="#808080" stroke-width="5"/>
<g stroke="#808080" stroke-width="6.8" stroke-dasharray="3.6 4.4"><line x1="1937.0" y1="23.8" x2="1937.0" y2="2657.0"/><line x1="2961.8" y1="23.8" x2="2961.8" y2="2657.0"/></g>
<rect x="1323.9" y="23.8" width="2252.1" height="2633.2" fill="none" stroke="#000" stroke-width="3.4"/>
<g stroke="#333333" stroke-width="5.6"><line x1="1424.6" y1="2657.0" x2="1424.6" y2="2670.0"/><line x1="1680.8" y1="2657.0" x2="1680.8" y2="2670.0"/><line x1="1937.0" y1="2657.0" x2="1937.0" y2="2670.0"/><line x1="2193.2" y1="2657.0" x2="2193.2" y2="2670.0"/><line x1="2449.4" y1="2657.0" x2="2449.4" y2="2670.0"/><line x1="2705.6" y1="2657.0" x2="2705.6" y2="2670.0"/><line x1="2961.8" y1="2657.0" x2="2961.8" y2="2670.0"/><line x1="3218.0" y1="2657.0" x2="3218.0" y2="2670.0"/><line x1="3474.2" y1="2657.0" x2="3474.2" y2="2670.0"/><line x1="1310.7" y1="61.0" x2="1323.9" y2="61.0"/><line x1="1310.7" y1="125.0" x2="1323.9" y2="125.0"/><line x1="1310.7" y1="188.9" x2="1323.9" y2="188.9"/><line x1="1310.7" y1="252.9" x2="1323.9" y2="252.9"/><line x1="1310.7" y1="316.8" x2="1323.9" y2="316.8"/><line x1="1310.7" y1="380.8" x2="1323.9" y2="380.8"/><line x1="1310.7" y1="444.7" x2="1323.9" y2="444.7"/><line x1="1310.7" y1="508.7" x2="1323.9" y2="508.7"/><line x1="1310.7" y1="572.6" x2="1323.9" y2="572.6"/><line x1="1310.7" y1="636.6" x2="1323.9" y2="636.6"/><line x1="1310.7" y1="700.5" x2="1323.9" y2="700.5"/><line x1="1310.7" y1="764.5" x2="1323.9" y2="764.5"/><line x1="1310.7" y1="828.4" x2="1323.9" y2="828.4"/><line x1="1310.7" y1="892.4" x2="1323.9" y2="892.4"/><line x1="1310.7" y1="956.3" x2="1323.9" y2="956.3"/><line x1="1310.7" y1="1020.2" x2="1323.9" y2="1020.2"/><line x1="1310.7" y1="1084.2" x2="1323.9" y2="1084.2"/><line x1="1310.7" y1="1148.2" x2="1323.9" y2="1148.2"/><line x1="1310.7" y1="1212.1" x2="1323.9" y2="1212.1"/><line x1="1310.7" y1="1276.0" x2="1323.9" y2="1276.0"/><line x1="1310.7" y1="1340.0" x2="1323.9" y2="1340.0"/><line x1="1310.7" y1="1404.0" x2="1323.9" y2="1404.0"/><line x1="1310.7" y1="1467.9" x2="1323.9" y2="1467.9"/><line x1="1310.7" y1="1531.9" x2="1323.9" y2="1531.9"/><line x1="1310.7" y1="1595.8" x2="1323.9" y2="1595.8"/><line x1="1310.7" y1="1659.8" x2="1323.9" y2="1659.8"/><line x1="1310.7" y1="1723.7" x2="1323.9" y2="1723.7"/><line x1="1310.7" y1="1787.7" x2="1323.9" y2="1787.7"/><line x1="1310.7" y1="1851.6" x2="1323.9" y2="1851.6"/><line x1="1310.7" y1="1915.6" x2="1323.9" y2="1915.6"/><line x1="1310.7" y1="1979.5" x2="1323.9" y2="1979.5"/><line x1="1310.7" y1="2043.5" x2="1323.9" y2="2043.5"/><line x1="1310.7" y1="2107.4" x2="1323.9" y2="2107.4"/><line x1="1310.7" y1="2171.3" x2="1323.9" y2="2171.3"/><line x1="1310.7" y1="2235.3" x2="1323.9" y2="2235.3"/><line x1="1310.7" y1="2299.2" x2="1323.9" y2="2299.2"/><line x1="1310.7" y1="2363.2" x2="1323.9" y2="2363.2"/><line x1="1310.7" y1="2427.2" x2="1323.9" y2="2427.2"/><line x1="1310.7" y1="2491.1" x2="1323.9" y2="2491.1"/><line x1="1310.7" y1="2555.1" x2="1323.9" y2="2555.1"/><line x1="1310.7" y1="2619.0" x2="1323.9" y2="2619.0"/></g>
<g fill="#4D4D4D" font-size="58"><text x="1424.6" y="2720.8" text-anchor="middle">-4</text><text x="1680.8" y="2720.8" text-anchor="middle">-3</text><text x="1937.0" y="2720.8" text-anchor="middle">-2</text><text x="2193.2" y="2720.8" text-anchor="middle">-1</text><text x="2449.4" y="2720.8" text-anchor="middle">0</text><text x="2705.6" y="2720.8" text-anchor="middle">1</text><text x="2961.8" y="2720.8" text-anchor="middle">2</text><text x="3218.0" y="2720.8" text-anchor="middle">3</text><text x="3474.2" y="2720.8" text-anchor="middle">4</text></g>
<g font-size="58.65"><text x="1302.2" y="76.6" text-anchor="end" fill="#B4818B">1.0 Global and overview maps</text><text x="1302.2" y="140.6" text-anchor="end" fill="#B4818B">1.1 Carbohydrate metabolism</text><text x="1302.2" y="204.5" text-anchor="end" fill="#B4818B">1.2 Energy metabolism</text><text x="1302.2" y="268.5" text-anchor="end" fill="#B4818B">1.3 Lipid metabolism</text><text x="1302.2" y="332.4" text-anchor="end" fill="#B4818B">1.4 Nucleotide metabolism</text><text x="1302.2" y="396.4" text-anchor="end" fill="#B4818B">1.5 Amino acid metabolism</text><text x="1302.2" y="460.3" text-anchor="end" fill="#B4818B">1.6 Metabolism of other amino acids</text><text x="1302.2" y="524.2" text-anchor="end" fill="#B4818B">1.7 Glycan biosynthesis and metabolism</text><text x="1302.2" y="588.2" text-anchor="end" fill="#B4818B">1.8 Metabolism of cofactors and vitamins</text><text x="1302.2" y="652.2" text-anchor="end" fill="#B4818B">1.9 Metabolism of terpenoids and polyketides</text><text x="1302.2" y="716.1" text-anchor="end" fill="#B4818B">1.10 Biosynthesis of other secondary metabolites</text><text x="1302.2" y="780.1" text-anchor="end" fill="#B4818B">1.11 Xenobiotics biodegradation and metabolism</text><text x="1302.2" y="844.0" text-anchor="end" fill="#25799F">2.1 Transcription</text><text x="1302.2" y="908.0" text-anchor="end" fill="#25799F">2.2 Translation</text><text x="1302.2" y="971.9" text-anchor="end" fill="#25799F">2.3 Folding, sorting and degradation</text><text x="1302.2" y="1035.8" text-anchor="end" fill="#25799F">2.4 Replication and repair</text><text x="1302.2" y="1099.8" text-anchor="end" fill="#F06E2A">3.1 Membrane transport</text><text x="1302.2" y="1163.8" text-anchor="end" fill="#F06E2A">3.2 Signal transduction</text><text x="1302.2" y="1227.7" text-anchor="end" fill="#4FA8DC">4.1 Transport and catabolism</text><text x="1302.2" y="1291.6" text-anchor="end" fill="#4FA8DC">4.2 Cell growth and death</text><text x="1302.2" y="1355.6" text-anchor="end" fill="#4FA8DC">4.3 Cellular community - eukaryotes</text><text x="1302.2" y="1419.5" text-anchor="end" fill="#4FA8DC">4.4 Cellular community - prokaryotes</text><text x="1302.2" y="1483.5" text-anchor="end" fill="#4FA8DC">4.5 Cell motility</text><text x="1302.2" y="1547.5" text-anchor="end" fill="#F7941D">5.1 Immune system</text><text x="1302.2" y="1611.4" text-anchor="end" fill="#F7941D">5.2 Endocrine system</text><text x="1302.2" y="1675.3" text-anchor="end" fill="#F7941D">5.4 Digestive system</text><text x="1302.2" y="1739.3" text-anchor="end" fill="#F7941D">5.5 Excretory system</text><text x="1302.2" y="1803.2" text-anchor="end" fill="#F7941D">5.6 Nervous system</text><text x="1302.2" y="1867.2" text-anchor="end" fill="#F7941D">5.9 Aging</text><text x="1302.2" y="1931.2" text-anchor="end" fill="#F7941D">5.10 Environmental adaptation</text><text x="1302.2" y="1995.1" text-anchor="end" fill="#8CBB6C">6.1 Cancer: overview</text><text x="1302.2" y="2059.1" text-anchor="end" fill="#8CBB6C">6.2 Cancer: specific types</text><text x="1302.2" y="2123.0" text-anchor="end" fill="#8CBB6C">6.3 Infectious disease: viral</text><text x="1302.2" y="2186.9" text-anchor="end" fill="#8CBB6C">6.4 Infectious disease: bacterial</text><text x="1302.2" y="2250.9" text-anchor="end" fill="#8CBB6C">6.5 Infectious disease: parasitic</text><text x="1302.2" y="2314.8" text-anchor="end" fill="#8CBB6C">6.6 Immune disease</text><text x="1302.2" y="2378.8" text-anchor="end" fill="#8CBB6C">6.7 Neurodegenerative disease</text><text x="1302.2" y="2442.8" text-anchor="end" fill="#8CBB6C">6.9 Cardiovascular disease</text><text x="1302.2" y="2506.7" text-anchor="end" fill="#8CBB6C">6.10 Endocrine and metabolic disease</text><text x="1302.2" y="2570.7" text-anchor="end" fill="#8CBB6C">6.11 Drug resistance: antimicrobial</text><text x="1302.2" y="2634.6" text-anchor="end" fill="#8CBB6C">6.12 Drug resistance: antineoplastic</text></g>
<text x="2449.4" y="2797.2" text-anchor="middle" font-size="72" font-weight="bold" fill="#000">Z-score</text>
<circle cx="2142.6" cy="2918.6" r="10.4" fill="none" stroke="#999999" stroke-width="4.2"/>
<text x="2202.4" y="2940.3" font-size="58.65" fill="#000">Background</text>
<circle cx="2574.4" cy="2918.6" r="17.2" fill="#DB3100"/>
<text x="2632.8" y="2940.3" font-size="58.65" fill="#000">Query</text>
</svg></body></html>
